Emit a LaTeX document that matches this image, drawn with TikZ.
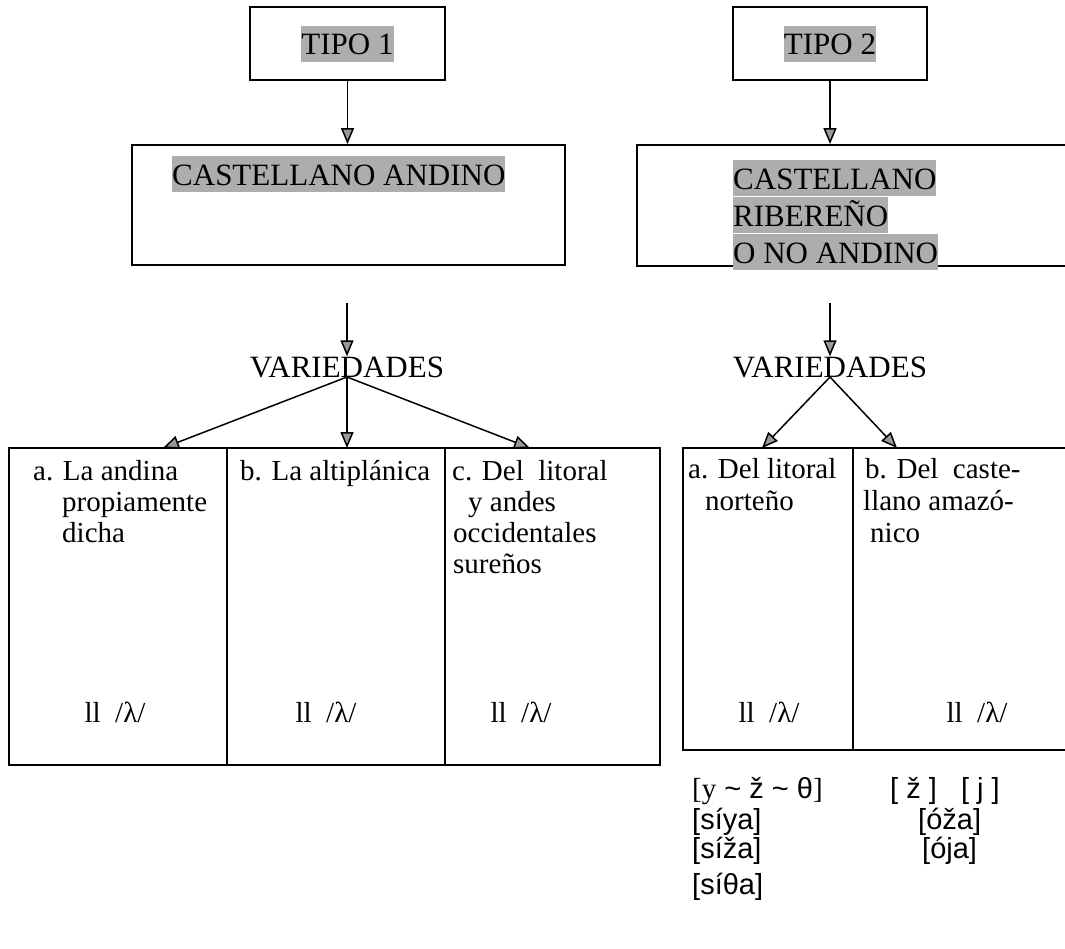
\documentclass[tikz,border=0pt]{standalone}
\usepackage{fontspec}
\setmainfont{Liberation Serif}
\setsansfont{Liberation Sans}
\usetikzlibrary{arrows.meta}
\definecolor{hlgray}{gray}{0.68}
\newcommand{\hlt}[1]{{\setlength{\fboxsep}{0pt}\colorbox{hlgray}{\rule[-7pt]{0pt}{36pt}#1}}}
\tikzset{
  box/.style={draw=black, line width=1.8pt, inner sep=0pt},
  varrow/.style={draw=black, line width=1.5pt, -{Triangle[length=16pt, width=13pt, fill=black!40]}},
  head/.style={font=\fontsize{31}{37}\selectfont},
  body/.style={font=\fontsize{29}{32}\selectfont},
  phon/.style={font=\sffamily\fontsize{29}{34}\selectfont}
}

\begin{document}
\begin{tikzpicture}[x=1pt,y=1pt]
    \tikzstyle{every node}+=[inner sep=0pt]
    \useasboundingbox (0,0) rectangle (1065,-948);
    \clip (0,0) rectangle (1065,-948);
    \node [box, head, minimum width=195, minimum height=73] (tipo1) at (347.5,-43.5) {\hlt{TIPO 1}};
    \node [box, head, minimum width=194, minimum height=73] (tipo2) at (830,-43.5) {\hlt{TIPO 2}};
    \node [box, minimum width=433, minimum height=120] (andino) at (348.5,-205) {};
    \node [head, anchor=base west] (andinotxt) at (172,-185) {\hlt{CASTELLANO ANDINO}};
    \node [box, minimum width=450, minimum height=121] (riber) at (862,-205.5) {};
    \node [head, anchor=base west] (ribera) at (733,-189) {\hlt{CASTELLANO}};
    \node [head, anchor=base west] (riberb) at (733,-226) {\hlt{RIBERE\~NO}};
    \node [head, anchor=base west] (riberc) at (733,-263) {\hlt{O NO ANDINO}};
    \draw [varrow] (tipo1) -- (tipo1 |- andino.north);
    \draw [varrow] (tipo2) -- (tipo2 |- riber.north);
    \node [head, anchor=base] (var1) at (347,-377) {VARIEDADES};
    \node [head, anchor=base] (var2) at (830,-377) {VARIEDADES};
    \coordinate (s1) at (347,-303);
    \coordinate (s2) at (830,-303);
    \draw [varrow] (s1) -- (var1.north);
    \draw [varrow] (s2) -- (var2.north);
    \node [box, minimum width=218, minimum height=317] (vara) at (118,-606.5) {};
    \node [box, minimum width=218, minimum height=317] (varb) at (336,-606.5) {};
    \node [box, minimum width=215, minimum height=317] (varc) at (552.5,-606.5) {};
    \node [box, minimum width=170, minimum height=302] (vard) at (768,-599) {};
    \node [box, minimum width=227, minimum height=302] (vare) at (966.5,-599) {};
    \coordinate (ta) at (163,-448);
    \coordinate (tb) at (347,-448);
    \coordinate (tc) at (530,-448);
    \coordinate (td) at (762,-448);
    \coordinate (te) at (897,-448);
    \draw [varrow] (var1.base) -- (ta);
    \draw [varrow] (var1.base) -- (tb);
    \draw [varrow] (var1.base) -- (tc);
    \draw [varrow] (var2.base) -- (td);
    \draw [varrow] (var2.base) -- (te);
    \node [body, anchor=base west] (a1) at (33,-480) {a. La andina};
    \node [body, anchor=base west] (a2) at (62,-511) {propiamente};
    \node [body, anchor=base west] (a3) at (62,-542) {dicha};
    \node [body, anchor=base west] (b1) at (240,-480) {b. La altipl\'anica};
    \node [body, anchor=base west] (c1) at (452,-480) {c. Del\ \ litoral};
    \node [body, anchor=base west] (c2) at (468,-511) {y andes};
    \node [body, anchor=base west] (c3) at (453,-542) {occidentales};
    \node [body, anchor=base west] (c4) at (453,-573) {sure\~nos};
    \node [body, anchor=base west] (d1) at (688,-478) {a. Del litoral};
    \node [body, anchor=base west] (d2) at (705,-510) {norte\~no};
    \node [body, anchor=base west] (e1) at (865,-478) {b. Del\ \ caste-};
    \node [body, anchor=base west] (e2) at (863,-510) {llano amaz\'o-};
    \node [body, anchor=base west] (e3) at (870,-542) {nico};
    \node [body] (lla) at (115,-712) {ll\ \ /λ/};
    \node [body] (llb) at (326,-712) {ll\ \ /λ/};
    \node [body] (llc) at (521,-712) {ll\ \ /λ/};
    \node [body] (lld) at (769,-712) {ll\ \ /λ/};
    \node [body] (lle) at (977,-712) {ll\ \ /λ/};
    \node [phon, anchor=base west] (p1) at (692,-798) {{\rmfamily[y} \textasciitilde{} ž \textasciitilde{} θ{\rmfamily]}};
    \node [phon, anchor=base west] (q1) at (890,-798) {[ ž ]\ \ \ [ j ]};
    \node [phon, anchor=base west] (p2) at (692,-829) {[síya]};
    \node [phon, anchor=base west] (q2) at (918,-829) {[óža]};
    \node [phon, anchor=base west] (p3) at (692,-858) {[síža]};
    \node [phon, anchor=base west] (q3) at (922,-858) {[ója]};
    \node [phon, anchor=base west] (p4) at (692,-894) {[síθa]};
\end{tikzpicture}
\end{document}
